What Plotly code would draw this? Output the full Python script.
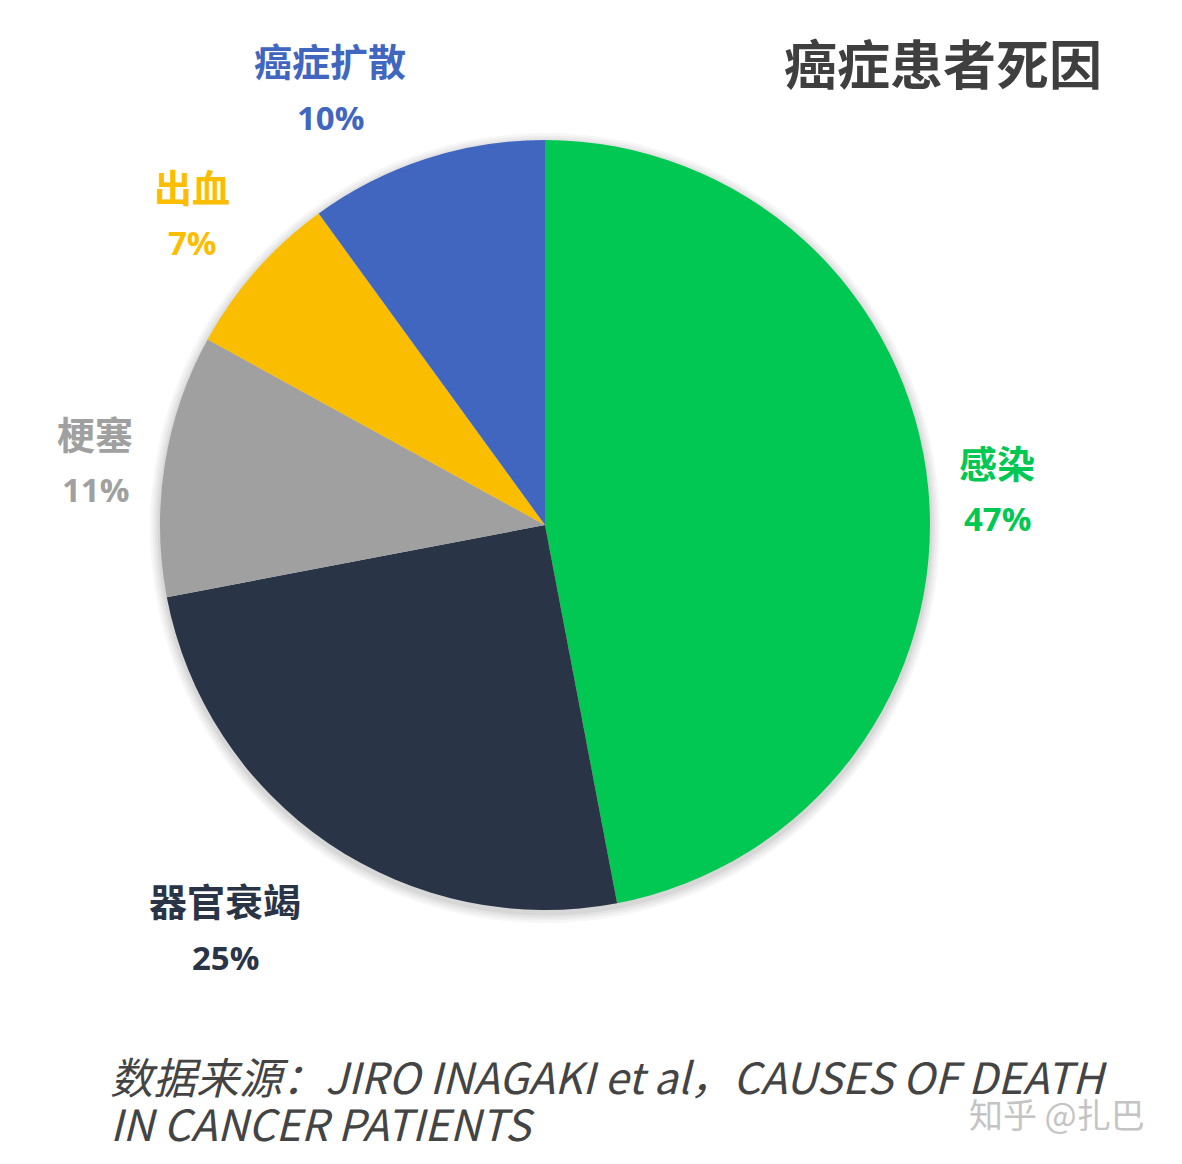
import plotly.graph_objects as go

# page body adds an 8px margin, so the figure is a bit smaller than the window
OFF = 8
W, H = 1182 - 2 * OFF, 1164 - 2 * OFF

causes = ["感染", "器官衰竭", "梗塞", "出血", "癌症扩散"]
shares = [47, 25, 11, 7, 10]
colors = ["#00C853", "#2A3447", "#A0A0A0", "#FBBD00", "#4166C0"]

# label centres in window pixels: name line (percent line sits 56px lower)
label_pos = [(997, 462), (225, 900), (95, 432), (192, 185), (330, 60)]

cx, cy, r = 545, 525, 385


def px(x):
    return (x - OFF) / W


def py(y):
    return 1 - (y - OFF) / H


fig = go.Figure()
fig.add_trace(go.Pie(
    labels=causes,
    values=shares,
    marker=dict(colors=colors, line=dict(width=0)),
    sort=False,
    direction="clockwise",
    rotation=0,
    textinfo="none",
    hoverinfo="label+percent",
    showlegend=False,
    domain=dict(x=[px(cx - r), px(cx + r)], y=[py(cy + r), py(cy - r)]),
))

# soft shadow rings under the pie
shapes = []
for i, a in enumerate([0.035, 0.035, 0.04, 0.05]):
    rr = r + 10 - i * 2.5
    shapes.append(dict(type="circle", xref="paper", yref="paper", layer="below",
                       x0=px(cx - rr), x1=px(cx + rr),
                       y0=py(cy + rr + 3), y1=py(cy - rr + 3),
                       line=dict(width=0), fillcolor=f"rgba(0,0,0,{a})"))

annotations = []
for name, val, col, (lx, ly) in zip(causes, shares, colors, label_pos):
    annotations.append(dict(x=px(lx), y=py(ly), xref="paper", yref="paper",
                            xanchor="center", yanchor="middle",
                            text=f"<b>{name}</b>", showarrow=False,
                            font=dict(size=38, color=col, family="Noto Sans CJK SC")))
    annotations.append(dict(x=px(lx), y=py(ly + 57), xref="paper", yref="paper",
                            xanchor="center", yanchor="middle",
                            text=f"<b>{val}%</b>", showarrow=False,
                            font=dict(size=33, color=col, family="Open Sans")))

annotations.append(dict(x=px(943), y=py(62), xref="paper", yref="paper",
                        xanchor="center", yanchor="middle",
                        text="<b>癌症患者死因</b>", showarrow=False,
                        font=dict(size=53, color="#3F3F3F", family="Noto Sans CJK SC")))

source_lines = ["数据来源：JIRO INAGAKI et al，CAUSES OF DEATH", "IN CANCER PATIENTS"]
for i, line in enumerate(source_lines):
    annotations.append(dict(x=px(108), y=py(1075 + 47 * i), xref="paper", yref="paper",
                            xanchor="left", yanchor="middle",
                            text=f"<i>{line}</i>", showarrow=False,
                            font=dict(size=43, color="#444444", family="Noto Sans CJK SC")))

annotations.append(dict(x=px(1057), y=py(1113), xref="paper", yref="paper",
                        xanchor="center", yanchor="middle",
                        text="知乎 @扎巴", showarrow=False,
                        font=dict(size=34, color="#C4C4C4", family="Noto Sans CJK SC")))

fig.update_layout(
    width=W, height=H,
    margin=dict(l=0, r=0, t=0, b=0),
    paper_bgcolor="white",
    plot_bgcolor="white",
    shapes=shapes,
    annotations=annotations,
)

fig.write_html("out.html")
